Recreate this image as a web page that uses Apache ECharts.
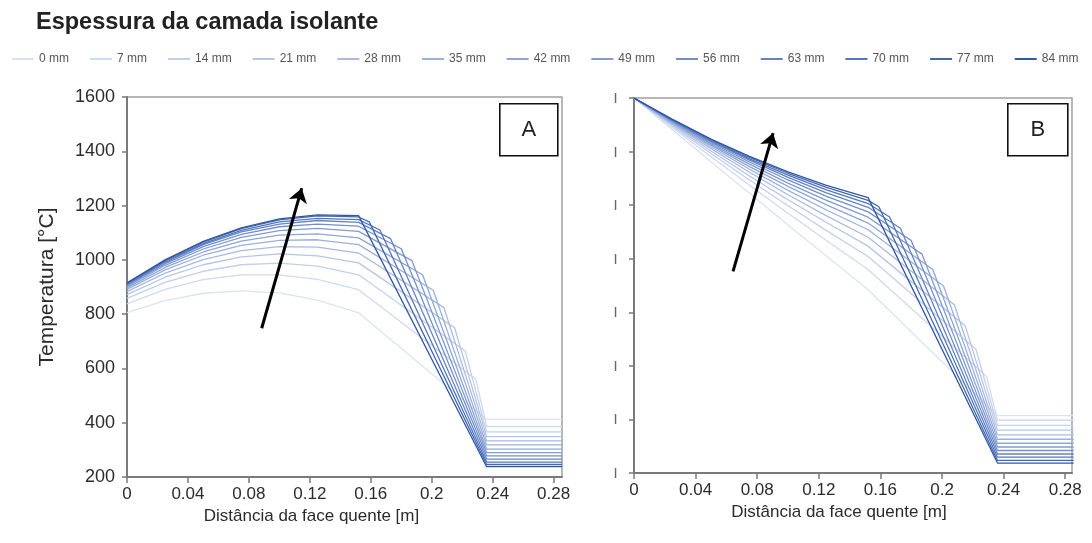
<!DOCTYPE html>
<html><head><meta charset="utf-8">
<script src="https://cdn.jsdelivr.net/npm/echarts/dist/echarts.min.js"></script>
<style>html,body{margin:0;padding:0;background:#fff}#c{width:1092px;height:543px}</style>
</head><body><div id="c"></div>
<script>
// ---- data ----
const SERIES_NAMES = ['0 mm','7 mm','14 mm','21 mm','28 mm','35 mm','42 mm','49 mm','56 mm','63 mm','70 mm','77 mm','84 mm'];
const X_TICKS = [0, 0.04, 0.08, 0.12, 0.16, 0.2, 0.24, 0.28];
const Y_TICKS = [200, 400, 600, 800, 1000, 1200, 1400, 1600];
const X_REF = [0, 0.025, 0.05, 0.075, 0.1, 0.125, 0.152];        // refractory layer
const KINK_X = [0.236, 0.229, 0.222, 0.215, 0.208, 0.201, 0.194, 0.187, 0.180, 0.173, 0.166, 0.159, 0.152];
const X_INS_END = 0.236;
const X_LAST = 0.2855;

const A_REF = [
  [806, 850, 877, 886, 878, 852, 805],
  [838, 891, 927, 945, 945, 928, 890],
  [858, 917, 958, 982, 988, 977, 945],
  [872, 936, 982, 1011, 1022, 1015, 989],
  [883, 951, 1001, 1034, 1049, 1047, 1025],
  [891, 963, 1017, 1053, 1072, 1074, 1056],
  [897, 972, 1029, 1069, 1091, 1096, 1081],
  [902, 980, 1040, 1083, 1108, 1116, 1105],
  [906, 986, 1049, 1094, 1122, 1132, 1124],
  [909, 991, 1056, 1103, 1132, 1145, 1138],
  [911, 994, 1060, 1109, 1140, 1153, 1148],
  [913, 998, 1065, 1115, 1147, 1162, 1158],
  [915, 1000, 1068, 1118, 1151, 1166, 1163]
];
const A_KINK = [412, 560, 664, 750, 824, 888, 945, 997, 1041, 1078, 1110, 1140, 1163];
const A_FLOOR = [412, 386, 366, 349, 333, 318, 303, 290, 278, 266, 255, 246, 238];

const B_REF = [
  [1600, 1481, 1362, 1244, 1126, 1010, 884],
  [1600, 1489, 1381, 1274, 1170, 1068, 960],
  [1600, 1495, 1393, 1294, 1198, 1105, 1008],
  [1600, 1499, 1402, 1309, 1220, 1135, 1047],
  [1600, 1503, 1411, 1323, 1239, 1160, 1080],
  [1600, 1506, 1418, 1334, 1255, 1182, 1108],
  [1600, 1509, 1424, 1344, 1270, 1201, 1133],
  [1600, 1512, 1429, 1353, 1282, 1218, 1155],
  [1600, 1514, 1434, 1361, 1294, 1233, 1175],
  [1600, 1516, 1438, 1368, 1304, 1246, 1192],
  [1600, 1517, 1442, 1373, 1312, 1257, 1206],
  [1600, 1519, 1445, 1378, 1319, 1266, 1218],
  [1600, 1520, 1447, 1382, 1324, 1274, 1228]
];
const B_KINK = [414, 560, 662, 750, 828, 898, 960, 1017, 1068, 1114, 1156, 1194, 1228];
const B_FLOOR = [414, 397, 378, 360, 342, 326, 311, 297, 284, 271, 259, 247, 237];

const ARROW_A = [[0.0884, 748], [0.1147, 1264]];
const ARROW_B = [[0.0643, 953], [0.0903, 1469]];

// ---- style ----
const COLORS = ['#dbe3f3','#cfd9ef','#c3cfeb','#b6c5e6','#a9bae1','#9cb0dc','#8ea5d6',
                '#819ad0','#738fca','#6583c3','#5576bb','#4368b2','#2f58a8'];
const FONT = 'Liberation Sans, Arial, sans-serif';
const TXT = '#2b2b2b';

function buildSeries(refVals, kinkVals, floorVals, g, arrow) {
  return SERIES_NAMES.map((name, k) => {
    const pts = X_REF.map((x, i) => [x, refVals[k][i]]);
    pts.push([KINK_X[k], kinkVals[k]]);
    pts.push([X_INS_END, floorVals[k]]);
    pts.push([X_LAST, floorVals[k]]);
    const s = {
      name, type: 'line', xAxisIndex: g, yAxisIndex: g, data: pts,
      symbol: 'none', showSymbol: false, lineStyle: { width: 1.3, color: COLORS[k] },
      itemStyle: { color: COLORS[k] }, z: 2, animation: false
    };
    if (k === SERIES_NAMES.length - 1) {
      s.markLine = {
        silent: true, symbol: ['none', 'arrow'], symbolSize: 14,
        lineStyle: { color: '#000', width: 3, type: 'solid' },
        itemStyle: { color: '#000' },
        label: { show: false }, animation: false,
        data: [[{ coord: arrow[0] }, { coord: arrow[1] }]]
      };
    }
    return s;
  });
}

function xAxis(g, max, shift) {
  return {
    type: 'value', gridIndex: g, min: 0, max: max, interval: 0.04,
    name: 'Distância da face quente [m]', nameLocation: 'middle', nameGap: 30,
    nameTextStyle: { fontSize: 17, color: TXT, fontFamily: FONT, padding: [0, shift, 0, 0] },
    axisLine: { show: true, lineStyle: { color: '#7a7a7a', width: 2 } },
    axisTick: { show: true, length: 6, lineStyle: { color: '#7a7a7a', width: 1.5 } },
    splitLine: { show: false },
    axisLabel: {
      fontSize: 17, color: TXT, fontFamily: FONT, margin: 9, showMaxLabel: false,
      formatter: v => X_TICKS.some(t => Math.abs(t - v) < 1e-9) ? String(+v.toFixed(2)) : ''
    }
  };
}
function yAxis(g, withLabels) {
  return {
    type: 'value', gridIndex: g, min: 200, max: 1600, interval: 200,
    name: withLabels ? 'Temperatura [°C]' : '', nameLocation: 'middle', nameGap: 69,
    nameTextStyle: { fontSize: 21, color: TXT, fontFamily: FONT },
    axisLine: { show: true, lineStyle: { color: '#7a7a7a', width: 2 } },
    axisTick: { show: true, length: 5, lineStyle: { color: '#7a7a7a', width: 1.5 } },
    splitLine: { show: false },
    axisLabel: withLabels
      ? { fontSize: 18, color: TXT, fontFamily: FONT, margin: 12,
          formatter: v => Y_TICKS.includes(v) ? String(v) : '' }
      : { fontSize: 11, color: '#666', fontWeight: 'bold', margin: 17, formatter: () => '|' }
  };
}

function labelBox(left, top, w, h, letter) {
  return {
    type: 'group', left: left, top: top, z: 10,
    children: [
      { type: 'rect', shape: { x: 0, y: 0, width: w, height: h },
        style: { fill: '#fff', stroke: '#111', lineWidth: 1.6 } },
      { type: 'text', x: w / 2, y: h / 2,
        style: { text: letter, fontSize: 22, fontFamily: FONT, fill: '#222',
                 textAlign: 'center', textVerticalAlign: 'middle' } }
    ]
  };
}

const chart = echarts.init(document.getElementById('c'), null, { renderer: 'canvas' });
chart.setOption({
  animation: false,
  backgroundColor: '#fff',
  title: {
    text: 'Espessura da camada isolante', left: 36, top: 11, padding: 0,
    textStyle: { fontSize: 23.5, fontWeight: 'bold', color: '#222', fontFamily: FONT }
  },
  legend: {
    data: SERIES_NAMES, left: 12, top: 53, width: 1080, padding: 0,
    icon: 'rect', itemWidth: 22, itemHeight: 2, itemGap: 21,
    textStyle: { fontSize: 12, color: '#555', fontFamily: FONT }
  },
  grid: [
    { left: 127, top: 97, width: 435, height: 380, show: true, borderColor: '#a0a0a0', borderWidth: 1.5 },
    { left: 634, top: 98, width: 438, height: 375, show: true, borderColor: '#a0a0a0', borderWidth: 1.5 }
  ],
  xAxis: [xAxis(0, 0.2855, 66), xAxis(1, 0.2844, 28)],
  yAxis: [yAxis(0, true), yAxis(1, false)],
  graphic: [labelBox(499, 103, 58, 52, 'A'), labelBox(1007, 103, 60, 52, 'B')],
  series: [].concat(
    buildSeries(A_REF, A_KINK, A_FLOOR, 0, ARROW_A),
    buildSeries(B_REF, B_KINK, B_FLOOR, 1, ARROW_B)
  )
});
</script>
</body></html>
